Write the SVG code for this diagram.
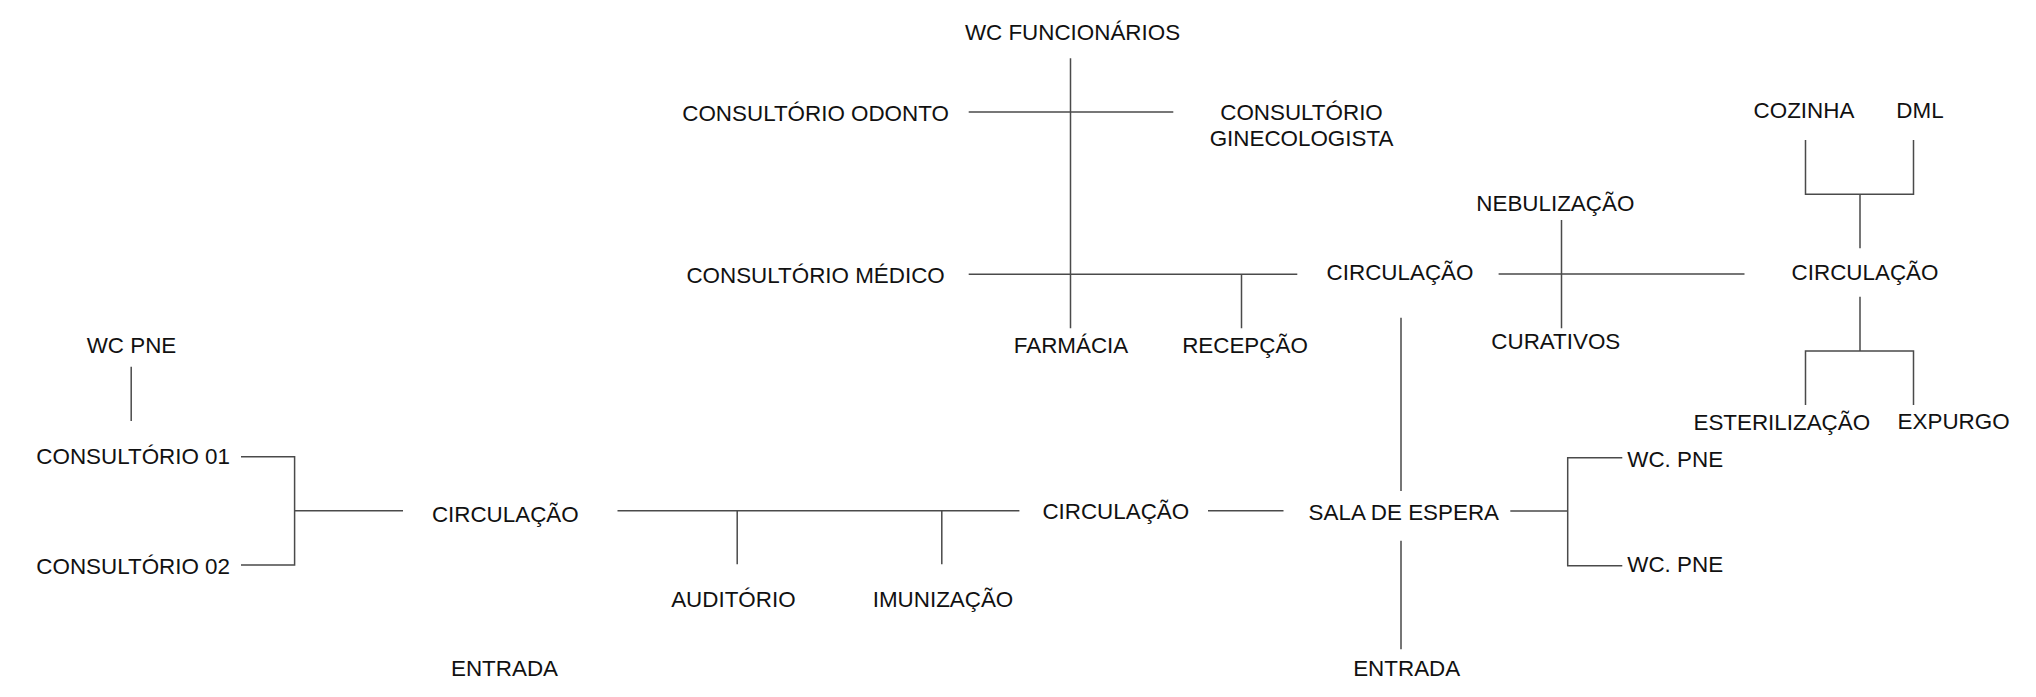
<svg xmlns="http://www.w3.org/2000/svg" width="2036" height="697" viewBox="0 0 2036 697">
<style>
text{font-family:"Liberation Sans",Arial,sans-serif;font-size:22.4px;fill:#111;text-anchor:middle}
.l{stroke:#4a4a4a;stroke-width:1.5;fill:none}
.s{text-anchor:start}
.e{text-anchor:end}
</style>
<rect width="2036" height="697" fill="#fff"/>
<g id="connectors" class="l">
<path class="l" d="M131.2 366.7V421"/>
<path class="l" d="M241 456.7H294.6V565H241M294.6 510.7H403"/>
<path class="l" d="M617.5 510.7H1019.4M737.2 510.7V564.3M941.8 510.7V564.3"/>
<path class="l" d="M1208 510.7H1283.5"/>
<path class="l" d="M1401 317.7V491M1401 540.7V649.3"/>
<path class="l" d="M1510.3 511H1567.7M1622.3 457.7H1567.7V565.7H1622.3"/>
<path class="l" d="M1070.5 58.3V328.3"/>
<path class="l" d="M968.7 112H1173.3"/>
<path class="l" d="M968.7 274.3H1297.3M1241.5 274.3V328.3"/>
<path class="l" d="M1498.6 274H1744.5M1561.5 220V328.3"/>
<path class="l" d="M1805.5 140V194.3H1913.5V140M1860 194.3V248.3"/>
<path class="l" d="M1860 296.7V351M1805.5 405V351H1913.5V405"/>
</g>
<g id="n-wcfunc"><text x="1072.5" y="40">WC FUNCIONÁRIOS</text></g>
<g id="n-odonto"><text x="815.6" y="120.7">CONSULTÓRIO ODONTO</text></g>
<g id="n-gineco"><text x="1301.5" y="120">CONSULTÓRIO</text><text x="1301.5" y="146">GINECOLOGISTA</text></g>
<g id="n-cozinha"><text x="1804" y="118.3">COZINHA</text></g>
<g id="n-dml"><text x="1920" y="118.3">DML</text></g>
<g id="n-nebul"><text x="1555.3" y="211">NEBULIZAÇÃO</text></g>
<g id="n-medico"><text x="815.6" y="283.3">CONSULTÓRIO MÉDICO</text></g>
<g id="n-circ-top"><text x="1400" y="280">CIRCULAÇÃO</text></g>
<g id="n-circ-right"><text x="1865" y="280">CIRCULAÇÃO</text></g>
<g id="n-farmacia"><text x="1071" y="353.3">FARMÁCIA</text></g>
<g id="n-recepcao"><text x="1245" y="353.3">RECEPÇÃO</text></g>
<g id="n-curativos"><text x="1555.8" y="349.3">CURATIVOS</text></g>
<g id="n-wcpne"><text x="131.5" y="353.3">WC PNE</text></g>
<g id="n-esteril"><text x="1781.8" y="430">ESTERILIZAÇÃO</text></g>
<g id="n-expurgo"><text x="1953.6" y="429">EXPURGO</text></g>
<g id="n-cons01"><text class="e" x="230" y="464.3">CONSULTÓRIO 01</text></g>
<g id="n-cons02"><text class="e" x="230" y="574">CONSULTÓRIO 02</text></g>
<g id="n-wcpne1"><text class="s" x="1627.3" y="467.3">WC. PNE</text></g>
<g id="n-wcpne2"><text class="s" x="1627.3" y="572.3">WC. PNE</text></g>
<g id="n-circ-left"><text x="505.3" y="521.7">CIRCULAÇÃO</text></g>
<g id="n-circ-mid"><text x="1115.8" y="519.3">CIRCULAÇÃO</text></g>
<g id="n-sala"><text x="1403.8" y="520">SALA DE ESPERA</text></g>
<g id="n-auditorio"><text x="733.4" y="606.7">AUDITÓRIO</text></g>
<g id="n-imunizacao"><text x="943" y="606.7">IMUNIZAÇÃO</text></g>
<g id="n-entrada-left"><text x="504.5" y="676">ENTRADA</text></g>
<g id="n-entrada-right"><text x="1406.7" y="676">ENTRADA</text></g>
</svg>
